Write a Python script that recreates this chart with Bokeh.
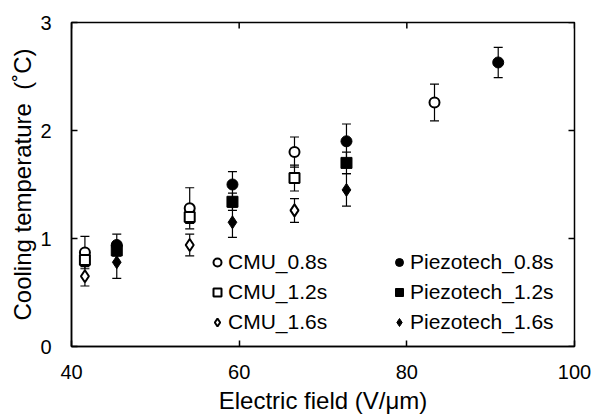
import math
from bokeh.plotting import figure
from bokeh.models import (ColumnDataSource, Whisker, TeeHead, Legend, LegendItem,
                          Range1d, FixedTicker)
from bokeh.embed import file_html
from bokeh.resources import INLINE

# ---- data ----
cmu_x = [41.6, 54.1, 66.6]
cmu08_x = [41.6, 54.1, 66.6, 83.3]
cmu08_y = [0.87, 1.28, 1.80, 2.26]
cmu08_e = [0.15, 0.19, 0.14, 0.17]
cmu12_y = [0.80, 1.20, 1.56]
cmu12_e = [0.05, 0.06, 0.12]
cmu16_y = [0.65, 0.94, 1.26]
cmu16_e = [0.09, 0.10, 0.11]

pz_x = [45.4, 59.2, 72.8]
pz08_x = [45.4, 59.2, 72.8, 90.9]
pz08_y = [0.94, 1.50, 1.90, 2.63]
pz08_e = [0.10, 0.12, 0.16, 0.14]
pz12_y = [0.89, 1.34, 1.70]
pz12_e = [0.05, 0.08, 0.10]
pz16_y = [0.78, 1.15, 1.45]
pz16_e = [0.15, 0.14, 0.15]

x_ticks = [40, 60, 80, 100]
y_ticks = [0, 1, 2, 3]
x_min, x_max = 40, 100
y_min, y_max = 0, 3

FONT = "Liberation Sans"

p = figure(width=592, height=416, output_backend="svg",
           toolbar_location=None, x_range=Range1d(x_min, x_max), y_range=Range1d(y_min, y_max),
           min_border_left=71, min_border_top=22, min_border_right=18, min_border_bottom=70)
p.background_fill_color = "white"
p.border_fill_color = "white"
p.grid.visible = False
p.outline_line_color = "black"
p.outline_line_width = 1.5

def style_axis(ax):
    ax.axis_line_color = "black"
    ax.axis_line_width = 1.5
    ax.major_tick_in = 6
    ax.major_tick_out = 0
    ax.major_tick_line_color = "black"
    ax.major_tick_line_width = 1.5
    ax.minor_tick_line_color = None
    ax.major_label_text_font = FONT
    ax.major_label_text_color = "black"
    ax.major_label_text_font_size = "20px"
    ax.axis_label_text_font = FONT
    ax.axis_label_text_font_style = "normal"
    ax.axis_label_text_color = "black"
    ax.axis_label_text_font_size = "24px"

xa = p.xaxis[0]
ya = p.yaxis[0]
style_axis(xa)
style_axis(ya)
xa.ticker = FixedTicker(ticks=x_ticks)
ya.ticker = FixedTicker(ticks=y_ticks)
xa.axis_label = "Electric field (V/μm)"
ya.axis_label = "Cooling temperature\u00a0 (˚C)"
xa.major_label_standoff = 18
xa.axis_label_standoff = 5
ya.major_label_standoff = 20
ya.axis_label_standoff = 1

# mirrored inner ticks on top and right edges (clipped to the frame)
p.scatter(x=x_ticks, y=[y_max] * len(x_ticks), marker="dash", angle=math.pi / 2,
          size=12, line_color="black", line_width=1.5)
p.scatter(x=[x_max] * len(y_ticks), y=y_ticks, marker="dash", angle=0,
          size=12, line_color="black", line_width=1.5)

def series(xs, ys, es, marker, filled, size):
    src = ColumnDataSource(dict(x=xs, y=ys, lo=[a - b for a, b in zip(ys, es)],
                                hi=[a + b for a, b in zip(ys, es)]))
    w = Whisker(source=src, base="x", lower="lo", upper="hi", line_color="black",
                line_width=1.2,
                upper_head=TeeHead(size=9, line_color="black", line_width=1.2),
                lower_head=TeeHead(size=9, line_color="black", line_width=1.2))
    p.add_layout(w)
    r = p.scatter("x", "y", source=src, marker=marker, size=size,
                  fill_color="black" if filled else "white",
                  line_color="black", line_width=2 if not filled else 1)
    return r

r1 = series(cmu08_x, cmu08_y, cmu08_e, "circle", False, 10)
r2 = series(cmu_x, cmu12_y, cmu12_e, "square", False, 10)
r3 = series(cmu_x, cmu16_y, cmu16_e, "diamond", False, 12)
r4 = series(pz08_x, pz08_y, pz08_e, "circle", True, 11)
r5 = series(pz_x, pz12_y, pz12_e, "square", True, 11)
r6 = series(pz_x, pz16_y, pz16_e, "diamond", True, 13)

def make_legend(items, loc):
    lg = Legend(items=items, location=loc, orientation="vertical",
                border_line_color=None, background_fill_alpha=0,
                label_text_font=FONT, label_text_font_size="21px",
                label_text_color="black", glyph_width=20, glyph_height=30,
                label_height=30, spacing=0, padding=0, margin=0, label_standoff=1)
    p.add_layout(lg, "center")

make_legend([LegendItem(label="CMU_0.8s", renderers=[r1]),
             LegendItem(label="CMU_1.2s", renderers=[r2]),
             LegendItem(label="CMU_1.6s", renderers=[r3])], (136, 9))
make_legend([LegendItem(label="Piezotech_0.8s", renderers=[r4]),
             LegendItem(label="Piezotech_1.2s", renderers=[r5]),
             LegendItem(label="Piezotech_1.6s", renderers=[r6])], (318, 9))

open("out.html", "w").write(file_html(p, INLINE))
